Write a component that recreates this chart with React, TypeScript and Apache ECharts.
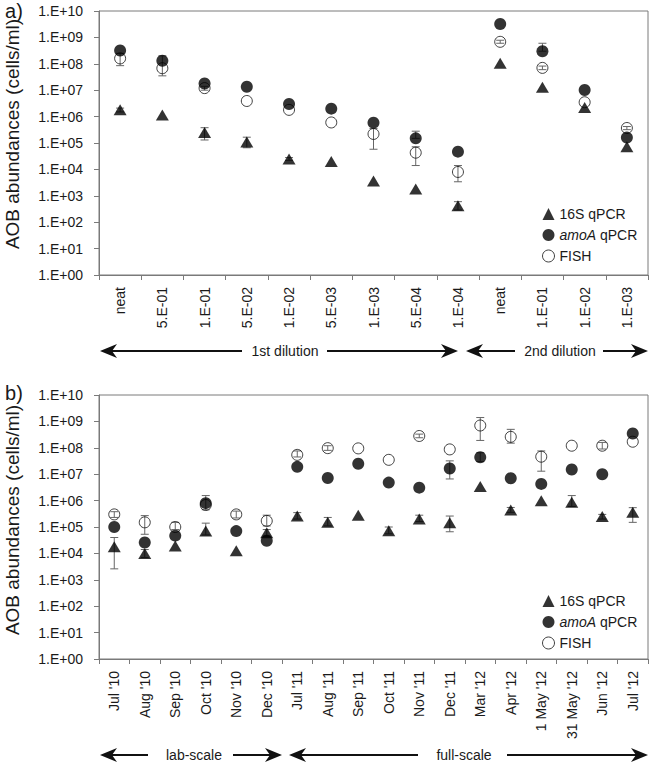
import React, { useEffect, useRef } from "react";
import * as echarts from "echarts";

const FONT = "'Liberation Sans', Arial, sans-serif";

// Panel a: dilution series
const CAT_A = ["neat", "5.E-01", "1.E-01", "5.E-02", "1.E-02", "5.E-03", "1.E-03", "5.E-04", "1.E-04", "neat", "1.E-01", "1.E-02", "1.E-03"];
const A_16S = [1.8e6, 1.15e6, 2.5e5, 1.1e5, 2.5e4, 2e4, 3.6e3, 1.8e3, 4.2e2, 1.05e8, 1.3e7, 2.2e6, 7.2e4];
const A_AMOA = [3.2e8, 1.3e8, 1.8e7, 1.35e7, 3e6, 2e6, 5.9e5, 1.5e5, 4.7e4, 3.2e9, 3e8, 1.02e7, 1.6e5];
const A_FISH = [1.6e8, 6.8e7, 1.2e7, 3.9e6, 1.8e6, 6e5, 2.2e5, 4.3e4, 8e3, 6.8e8, 7e7, 3.5e6, 3.7e5];
// error bars: [categoryIndex, low, high]
const A_ERR = [
  [0, 1.5e6, 2.1e6], [2, 1.3e5, 3.8e5], [3, 6.6e4, 1.66e5], [8, 2.9e2, 6e2], [4, 2.2e4, 2.8e4],
  [7, 1.5e5, 2.8e5], [10, 3e8, 6e8],
  [0, 8.5e7, 2.5e8], [1, 3.5e7, 2e8], [6, 5.8e4, 3.5e5], [7, 1.4e4, 7.2e4], [8, 3.4e3, 1.4e4], [10, 6e7, 8.2e7], [12, 3.2e5, 4.2e5], [9, 6e8, 7.8e8], [2, 1e7, 1.4e7]
];

// Panel b: time series
const CAT_B = ["Jul '10", "Aug '10", "Sep '10", "Oct '10", "Nov '10", "Dec '10", "Jul '11", "Aug '11", "Sep '11", "Oct '11", "Nov '11", "Dec '11", "Mar '12", "Apr '12", "1 May '12", "31 May '12", "Jun '12", "Jul '12"];
const B_16S = [1.8e4, 1e4, 1.9e4, 7e4, 1.26e4, 6e4, 2.6e5, 1.5e5, 2.8e5, 7.2e4, 2e5, 1.45e5, 3.4e6, 4.4e5, 9.8e5, 8.6e5, 2.5e5, 3.6e5];
const B_AMOA = [1e5, 2.6e4, 4.7e4, 8e5, 7e4, 3e4, 1.9e7, 7.2e6, 2.5e7, 4.8e6, 3.1e6, 1.65e7, 4.4e7, 7e6, 4.3e6, 1.5e7, 1e7, 3.5e8];
const B_FISH = [3e5, 1.5e5, 1e5, 6.8e5, 3e5, 1.7e5, 5.4e7, 9.7e7, 9.5e7, 3.5e7, 2.8e8, 8.7e7, 7e8, 2.6e8, 4.6e7, 1.2e8, 1.2e8, 1.7e8];
const B_ERR = [
  [0, 2.6e3, 4e4], [1, 7e3, 1.4e4], [3, 5e4, 1.4e5], [5, 4.5e4, 8e4], [6, 2e5, 3.5e5], [7, 1.1e5, 2.3e5], [9, 5.5e4, 1e5],
  [10, 1.6e5, 2.8e5], [11, 6.6e4, 2.6e5], [13, 3.6e5, 5.5e5], [15, 6e5, 1.55e6], [16, 2e5, 3e5], [17, 1.5e5, 5.4e5],
  [11, 6.6e6, 3.2e7], [12, 3e7, 6.5e7],
  [0, 2.3e5, 3.8e5], [1, 5.3e4, 2.7e5], [2, 8e4, 1.5e5], [3, 4.5e5, 1.55e6], [4, 2.2e5, 4e5], [5, 1.1e5, 2.8e5],
  [6, 4.5e7, 7.6e7], [7, 8e7, 1.2e8], [10, 2.4e8, 3.3e8], [12, 1.9e8, 1.4e9], [13, 1.5e8, 5e8], [14, 1.3e7, 7.6e7], [16, 9e7, 1.6e8]
];

const SERIES_NAMES = ["16S qPCR", "amoA qPCR", "FISH"];

const AXIS_COLOR = "#7a7a7a";
const TEXT_COLOR = "#1a1a1a";
const MARK = "#000";

function errorRender(params: any, api: any) {
  const x = api.value(0);
  const lo = api.coord([x, api.value(1)]);
  const hi = api.coord([x, api.value(2)]);
  const cap = 4;
  const style = { stroke: "#666", lineWidth: 1 };
  return {
    type: "group",
    children: [
      { type: "line", shape: { x1: lo[0], y1: lo[1], x2: hi[0], y2: hi[1] }, style },
      { type: "line", shape: { x1: lo[0] - cap, y1: lo[1], x2: lo[0] + cap, y2: lo[1] }, style },
      { type: "line", shape: { x1: hi[0] - cap, y1: hi[1], x2: hi[0] + cap, y2: hi[1] }, style },
    ],
  };
}

function panelSeries(idx: number, s16: number[], amoa: number[], fish: number[], err: number[][]) {
  return [
    {
      type: "custom", xAxisIndex: idx, yAxisIndex: idx, renderItem: errorRender,
      encode: { x: 0, y: [1, 2] }, data: err, z: 1, silent: true,
    },
    {
      name: SERIES_NAMES[0], type: "scatter", xAxisIndex: idx, yAxisIndex: idx, data: s16,
      symbol: "triangle", symbolSize: [13, 11], itemStyle: { color: MARK }, z: 3,
    },
    {
      name: SERIES_NAMES[1], type: "scatter", xAxisIndex: idx, yAxisIndex: idx, data: amoa,
      symbol: "circle", symbolSize: 12, itemStyle: { color: MARK }, z: 3,
    },
    {
      name: SERIES_NAMES[2], type: "scatter", xAxisIndex: idx, yAxisIndex: idx, data: fish,
      symbol: "circle", symbolSize: 11,
      itemStyle: { color: "rgba(255,255,255,0)", borderColor: "#111", borderWidth: 1 }, z: 2,
    },
  ];
}

function legend(top: number) {
  return {
    orient: "vertical", left: 537, top, itemWidth: 12, itemHeight: 12, itemGap: 7,
    selectedMode: false,
    textStyle: {
      fontFamily: FONT, fontSize: 14, color: TEXT_COLOR, lineHeight: 14,
      rich: { i: { fontStyle: "italic", fontFamily: FONT, fontSize: 14, color: TEXT_COLOR } },
    },
    formatter: (n: string) => (n === "amoA qPCR" ? "{i|amoA} qPCR" : n),
    data: [
      { name: SERIES_NAMES[0], icon: "triangle", itemStyle: { color: MARK } },
      { name: SERIES_NAMES[1], icon: "circle", itemStyle: { color: MARK } },
      { name: SERIES_NAMES[2], icon: "circle", itemStyle: { color: "#fff", borderColor: "#111", borderWidth: 1 } },
    ],
  };
}

function arrowHead(tx: number, y: number, dir: number) {
  return {
    type: "polygon",
    shape: { points: [[tx, y], [tx - dir * 17, y - 7], [tx - dir * 12, y], [tx - dir * 17, y + 7]] },
    style: { fill: "#111" },
  };
}

function seg(x1: number, x2: number, y: number) {
  return { type: "line", shape: { x1, y1: y, x2, y2: y }, style: { stroke: "#111", lineWidth: 2 } };
}

function label(x: number, y: number, text: string, size = 14) {
  return {
    type: "text", x, y,
    style: { text, fontSize: size, fontFamily: FONT, fill: TEXT_COLOR, align: "center", verticalAlign: "middle" },
  };
}

export default function App() {
  const ref = useRef<HTMLDivElement>(null);
  useEffect(() => {
    if (!ref.current) return;
    const chart = echarts.init(ref.current, undefined, { renderer: "svg" });
    const grids = [
      { left: 99, top: 11, width: 549, height: 264 },
      { left: 99, top: 395, width: 549, height: 264 },
    ];
    const option: any = {
      animation: false,
      textStyle: { fontFamily: FONT },
      grid: grids.map((g) => ({ ...g, show: true, borderColor: AXIS_COLOR, borderWidth: 1, backgroundColor: "transparent" })),
      xAxis: [CAT_A, CAT_B].map((cats, i) => ({
        type: "category", gridIndex: i, data: cats, boundaryGap: true,
        axisLine: { lineStyle: { color: AXIS_COLOR } },
        axisTick: { show: true, length: 5, alignWithLabel: false, lineStyle: { color: AXIS_COLOR } },
        axisLabel: { rotate: 90, interval: 0, margin: 12, fontSize: 14, color: TEXT_COLOR, fontFamily: FONT },
        splitLine: { show: false },
      })),
      yAxis: [0, 1].map((i) => ({
        type: "log", gridIndex: i, logBase: 10, min: 1, max: 1e10, interval: 1,
        axisLine: { show: true, lineStyle: { color: AXIS_COLOR } },
        axisTick: { show: true, length: 5, lineStyle: { color: AXIS_COLOR } },
        axisLabel: {
          margin: 16, fontSize: 14, color: TEXT_COLOR, fontFamily: FONT,
          formatter: (v: number) => {
            const e = Math.round(Math.log10(v));
            return "1.E+" + (e < 10 ? "0" + e : String(e));
          },
        },
        splitLine: { show: false },
        minorTick: { show: false },
      })),
      legend: [legend(202), legend(589)],
      series: [
        ...panelSeries(0, A_16S, A_AMOA, A_FISH, A_ERR),
        ...panelSeries(1, B_16S, B_AMOA, B_FISH, B_ERR),
      ],
      graphic: [
        label(14, 11, "a)", 20),
        label(14, 393, "b)", 20),
        { ...label(12, 134, "AOB abundances (cells/ml)", 19), rotation: Math.PI / 2 },
        { ...label(12, 520, "AOB abundances (cells/ml)", 19), rotation: Math.PI / 2 },
        // panel a arrows
        seg(110, 242, 351), seg(327, 448, 351), arrowHead(100, 351, -1), arrowHead(458, 351, 1),
        label(285, 351, "1st dilution"),
        seg(476, 515, 351), seg(603, 638, 351), arrowHead(466, 351, -1), arrowHead(648, 351, 1),
        label(560, 351, "2nd dilution"),
        // panel b arrows
        seg(110, 148, 755), seg(233, 272, 755), arrowHead(100, 755, -1), arrowHead(282, 755, 1),
        label(194, 755, "lab-scale"),
        seg(299, 418, 755), seg(507, 638, 755), arrowHead(289, 755, -1), arrowHead(648, 755, 1),
        label(464, 755, "full-scale"),
      ],
    };
    chart.setOption(option);
    return () => chart.dispose();
  }, []);
  return <div ref={ref} style={{ position: "absolute", left: 0, top: 0, width: 650, height: 765 }} />;
}
